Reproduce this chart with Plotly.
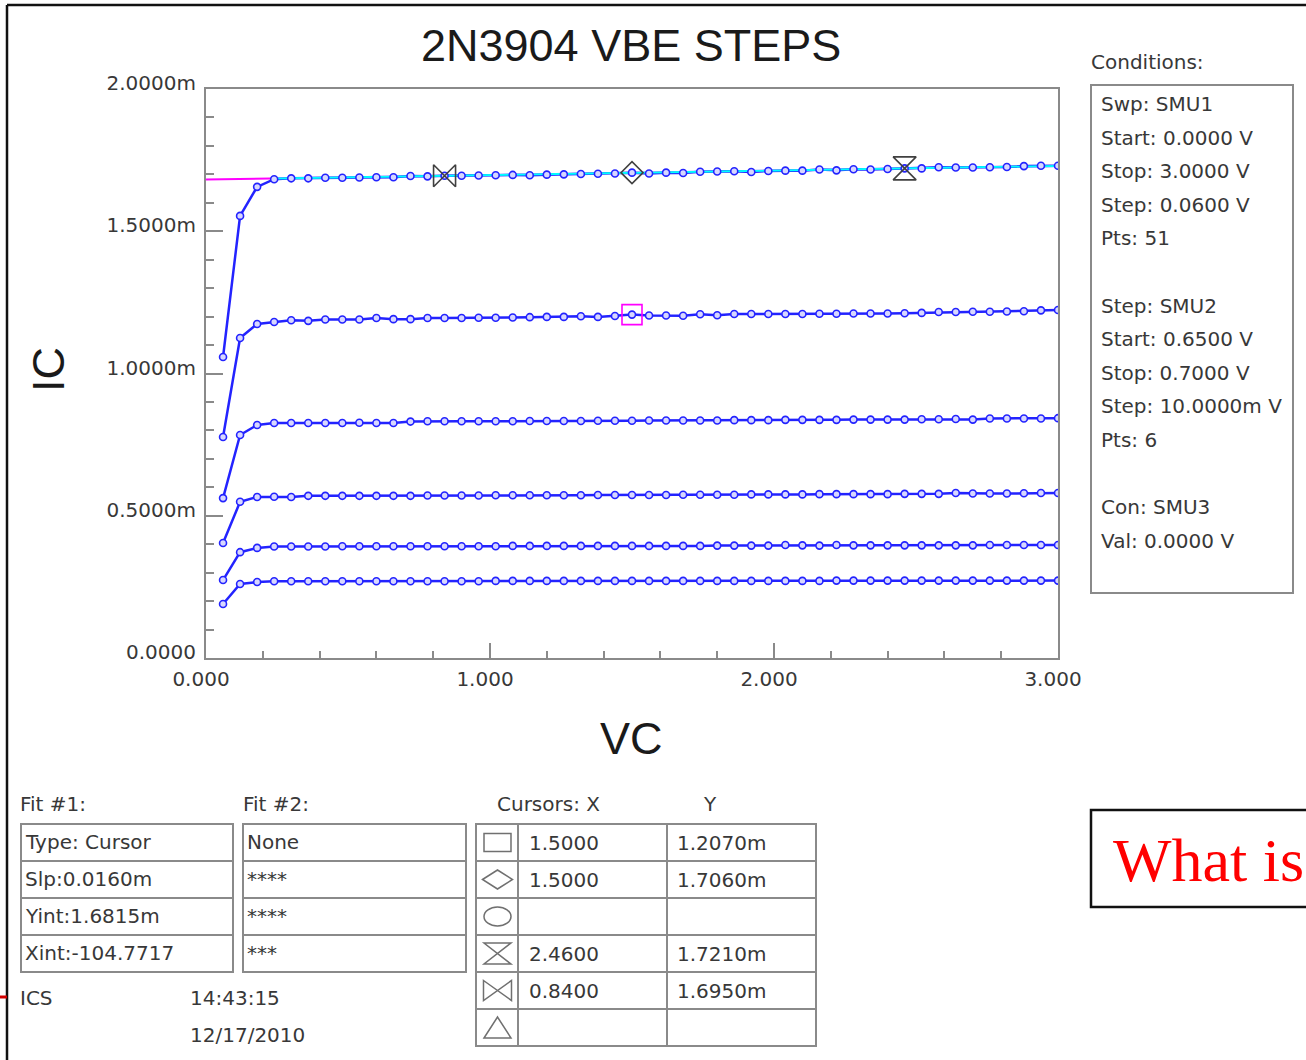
import plotly.graph_objects as go

W, H = 1306, 1060

# ---- sweep data (SMU1 collector sweep, one curve per SMU2 base step) ----
VC = [0.06, 0.12, 0.18, 0.24, 0.30, 0.36, 0.42, 0.48, 0.54, 0.60,
      0.66, 0.72, 0.78, 0.84, 0.90, 0.96, 1.02, 1.08, 1.14, 1.20,
      1.26, 1.32, 1.38, 1.44, 1.50, 1.56, 1.62, 1.68, 1.74, 1.80,
      1.86, 1.92, 1.98, 2.04, 2.10, 2.16, 2.22, 2.28, 2.34, 2.40,
      2.46, 2.52, 2.58, 2.64, 2.70, 2.76, 2.82, 2.88, 2.94, 3.00]

# collector current in mA
IC_VBE_700 = [1.058, 1.554, 1.656, 1.683, 1.686, 1.686, 1.688, 1.688, 1.689, 1.690,
              1.690, 1.694, 1.693, 1.695, 1.695, 1.696, 1.697, 1.698, 1.697, 1.699,
              1.700, 1.701, 1.702, 1.703, 1.706, 1.703, 1.706, 1.705, 1.709, 1.710,
              1.711, 1.708, 1.712, 1.713, 1.713, 1.717, 1.714, 1.718, 1.717, 1.719,
              1.721, 1.721, 1.725, 1.724, 1.724, 1.725, 1.726, 1.729, 1.730, 1.730]
IC_VBE_690 = [0.777, 1.125, 1.174, 1.181, 1.187, 1.185, 1.190, 1.190, 1.190, 1.195,
              1.191, 1.191, 1.195, 1.195, 1.195, 1.196, 1.196, 1.197, 1.198, 1.199,
              1.199, 1.201, 1.199, 1.202, 1.207, 1.204, 1.204, 1.203, 1.208, 1.205,
              1.209, 1.209, 1.209, 1.209, 1.209, 1.210, 1.210, 1.211, 1.211, 1.211,
              1.212, 1.213, 1.216, 1.216, 1.217, 1.217, 1.218, 1.219, 1.222, 1.223]
IC_VBE_680 = [0.562, 0.784, 0.819, 0.826, 0.826, 0.826, 0.826, 0.826, 0.827, 0.826,
              0.826, 0.831, 0.832, 0.832, 0.832, 0.832, 0.832, 0.832, 0.833, 0.833,
              0.833, 0.833, 0.834, 0.834, 0.834, 0.835, 0.835, 0.835, 0.835, 0.835,
              0.836, 0.836, 0.836, 0.837, 0.837, 0.837, 0.837, 0.838, 0.838, 0.838,
              0.838, 0.839, 0.839, 0.840, 0.838, 0.842, 0.842, 0.842, 0.842, 0.843]
IC_VBE_670 = [0.404, 0.549, 0.566, 0.567, 0.566, 0.570, 0.570, 0.570, 0.570, 0.570,
              0.570, 0.570, 0.571, 0.571, 0.571, 0.571, 0.572, 0.572, 0.572, 0.572,
              0.572, 0.572, 0.573, 0.573, 0.573, 0.573, 0.573, 0.574, 0.574, 0.574,
              0.574, 0.575, 0.575, 0.575, 0.575, 0.576, 0.576, 0.576, 0.576, 0.576,
              0.577, 0.577, 0.577, 0.580, 0.578, 0.578, 0.578, 0.579, 0.580, 0.580]
IC_VBE_660 = [0.274, 0.372, 0.387, 0.392, 0.392, 0.392, 0.392, 0.393, 0.393, 0.393,
              0.393, 0.393, 0.393, 0.393, 0.393, 0.393, 0.393, 0.394, 0.394, 0.394,
              0.394, 0.394, 0.394, 0.394, 0.394, 0.394, 0.394, 0.394, 0.394, 0.395,
              0.395, 0.395, 0.395, 0.397, 0.396, 0.395, 0.397, 0.396, 0.396, 0.396,
              0.396, 0.396, 0.396, 0.396, 0.396, 0.397, 0.397, 0.397, 0.397, 0.397]
IC_VBE_650 = [0.190, 0.260, 0.267, 0.270, 0.270, 0.270, 0.270, 0.270, 0.270, 0.270,
              0.270, 0.270, 0.270, 0.270, 0.270, 0.270, 0.271, 0.271, 0.271, 0.271,
              0.271, 0.271, 0.271, 0.271, 0.271, 0.271, 0.271, 0.271, 0.271, 0.271,
              0.271, 0.271, 0.271, 0.271, 0.271, 0.271, 0.272, 0.272, 0.272, 0.272,
              0.272, 0.272, 0.272, 0.272, 0.272, 0.272, 0.272, 0.272, 0.272, 0.272]

CURVES = [("VBE 0.65 V", IC_VBE_650), ("VBE 0.66 V", IC_VBE_660),
          ("VBE 0.67 V", IC_VBE_670), ("VBE 0.68 V", IC_VBE_680),
          ("VBE 0.69 V", IC_VBE_690), ("VBE 0.70 V", IC_VBE_700)]

# ---- cursor line fit (Fit #1) ----
FIT_SLOPE = 0.0160    # mA per V
FIT_YINT = 1.6815     # mA
FIT_START = 0.24      # V, start of the highlighted fit segment

# ---- cursors ----
CUR_SYMBOLS = ["square", "diamond", "circle", "hourglass", "bowtie", "triangle-up"]
CUR_X = ["1.5000", "1.5000", "", "2.4600", "0.8400", ""]
CUR_Y = ["1.2070m", "1.7060m", "", "1.7210m", "1.6950m", ""]

# ---- text panels ----
Y_TICKS = [0.0, 0.5, 1.0, 1.5, 2.0]
Y_TICK_TEXT = ["0.0000", "0.5000m", "1.0000m", "1.5000m", "2.0000m"]
CONDITIONS = ["Swp: SMU1", "Start: 0.0000 V", "Stop: 3.0000 V", "Step: 0.0600 V", "Pts: 51", "",
              "Step: SMU2", "Start: 0.6500 V", "Stop: 0.7000 V", "Step: 10.0000m V", "Pts: 6", "",
              "Con: SMU3", "Val: 0.0000 V"]
FIT1 = ["Type: Cursor", "Slp:0.0160m", "Yint:1.6815m", "Xint:-104.7717"]
FIT2 = ["None", "****", "****", "***"]

BLUE = "rgb(35,35,255)"
GRID_GRAY = "#8a8a8a"
TXT = "#383838"
SMALL = dict(family="DejaVu Sans", size=20, color=TXT)


def px(x):
    return x / W


def py(y):
    return 1 - y / H


fig = go.Figure()

# fit line over the whole sweep, then the highlighted part
fx = [0.0, 3.0]
fig.add_trace(go.Scatter(x=fx, y=[FIT_YINT + FIT_SLOPE * v for v in fx], mode="lines",
                         line=dict(color="rgb(255,0,255)", width=2), hoverinfo="skip"))

for name, ic in CURVES:
    fig.add_trace(go.Scatter(x=VC, y=ic, mode="lines", name=name,
                             line=dict(color=BLUE, width=2.5), hoverinfo="skip"))

cx = [FIT_START, 3.0]
fig.add_trace(go.Scatter(x=cx, y=[FIT_YINT + FIT_SLOPE * v for v in cx], mode="lines",
                         line=dict(color="rgb(0,255,255)", width=2), hoverinfo="skip"))

for name, ic in CURVES:
    fig.add_trace(go.Scatter(x=VC, y=ic, mode="markers", name=name,
                             marker=dict(symbol="circle", size=7, color="rgb(215,215,255)",
                                         line=dict(color=BLUE, width=1.6)),
                             hoverinfo="skip"))

# cursor markers on the plot
cur_sizes = {"square": 20, "diamond": 17, "hourglass": 23, "bowtie": 22}
for sym, xs, ys in zip(CUR_SYMBOLS, CUR_X, CUR_Y):
    if not xs:
        continue
    col = "rgb(255,0,255)" if sym == "square" else "#404040"
    fig.add_trace(go.Scatter(x=[float(xs)], y=[float(ys.rstrip("m"))], mode="markers",
                             marker=dict(symbol=sym + "-open", size=cur_sizes[sym],
                                         color=col, line=dict(color=col, width=1.6)),
                             hoverinfo="skip"))

axis_common = dict(showline=True, linecolor=GRID_GRAY, linewidth=2, mirror=True,
                   showgrid=False, zeroline=False, ticks="inside", tickwidth=2,
                   tickcolor=GRID_GRAY, tickfont=SMALL, automargin=False)

fig.update_layout(
    width=W, height=H, margin=dict(l=0, r=0, t=0, b=0, autoexpand=False),
    paper_bgcolor="white", plot_bgcolor="white", showlegend=False,
    xaxis=dict(domain=[px(206), px(1058)], range=[0, 3], tickmode="linear", tick0=0, dtick=1,
               tickformat=".3f", ticklen=15, ticklabelshift=-5, ticklabelstandoff=2,
               minor=dict(ticks="inside", tickmode="linear", tick0=0, dtick=0.2, ticklen=7,
                          tickwidth=2, tickcolor=GRID_GRAY),
               **axis_common),
    yaxis=dict(domain=[py(658), py(89)], range=[0, 2], tickmode="array", tickvals=Y_TICKS,
               ticktext=Y_TICK_TEXT, ticklen=17, ticklabelshift=-6, ticklabelstandoff=4,
               minor=dict(ticks="inside", tickmode="linear", tick0=0, dtick=0.1, ticklen=8,
                          tickwidth=2, tickcolor=GRID_GRAY),
               **axis_common),
)

ann = []
shapes = []


def text(x, y, s, font=SMALL, xanchor="left", **kw):
    # left-anchored labels are nudged to offset the annotation box padding
    xx = x - 2.5 if xanchor == "left" else x
    ann.append(dict(x=px(xx), y=py(y), xref="paper", yref="paper", text=s, showarrow=False,
                    xanchor=xanchor, yanchor="middle", font=font, **kw))


def line(x0, y0, x1, y1, color=GRID_GRAY, width=2):
    shapes.append(dict(type="line", xref="paper", yref="paper", x0=px(x0), y0=py(y0),
                       x1=px(x1), y1=py(y1), line=dict(color=color, width=width)))


def rect(x0, y0, x1, y1, color=GRID_GRAY, width=2):
    shapes.append(dict(type="rect", xref="paper", yref="paper", x0=px(x0), y0=py(y0),
                       x1=px(x1), y1=py(y1), line=dict(color=color, width=width)))


def path(points, color="#707070", width=1.5, close=True):
    d = "M " + " L ".join(f"{px(a):.5f},{py(b):.5f}" for a, b in points)
    if close:
        d += " Z"
    shapes.append(dict(type="path", xref="paper", yref="paper", path=d,
                       line=dict(color=color, width=width)))


# titles
text(631, 45, "2N3904 VBE STEPS", font=dict(family="Liberation Sans", size=45, color="#1a1a1a"),
     xanchor="center")
text(631, 738, "VC", font=dict(family="Liberation Sans", size=45, color="#1a1a1a"), xanchor="center")
text(48, 370, "IC", font=dict(family="Liberation Sans", size=45, color="#1a1a1a"), xanchor="center",
     textangle=-90)

# conditions panel
text(1091, 62, "Conditions:")
rect(1091, 85, 1293, 593)
for i, s in enumerate(CONDITIONS):
    if s:
        text(1101, 104 + i * 33.6, s)

# fit tables
row_top, row_h = 824, 37
text(20, 804, "Fit #1:")
text(243, 804, "Fit #2:")
for (x0, x1, rows) in [(21, 233, FIT1), (243, 466, FIT2)]:
    rect(x0, row_top, x1, row_top + row_h * 4)
    for r in range(1, 4):
        line(x0, row_top + r * row_h, x1, row_top + r * row_h)
    for r, s in enumerate(rows):
        text(x0 + 4, row_top + r * row_h + 18, s)

text(20, 998, "ICS")
text(190, 998, "14:43:15")
text(190, 1035, "12/17/2010")

# cursor table
text(497, 804, "Cursors: X")
text(703, 804, "Y")
ct_x0, ct_x1, ct_c1, ct_c2 = 476, 816, 518, 667
rect(ct_x0, row_top, ct_x1, row_top + row_h * 6)
for r in range(1, 6):
    line(ct_x0, row_top + r * row_h, ct_x1, row_top + r * row_h)
line(ct_c1, row_top, ct_c1, row_top + row_h * 6)
line(ct_c2, row_top, ct_c2, row_top + row_h * 6)
for r, (sym, xs, ys) in enumerate(zip(CUR_SYMBOLS, CUR_X, CUR_Y)):
    cy = row_top + r * row_h + 18.5
    cxm = 497.5
    if sym == "square":
        path([(cxm - 13.5, cy - 9), (cxm + 13.5, cy - 9), (cxm + 13.5, cy + 9), (cxm - 13.5, cy + 9)])
    elif sym == "diamond":
        path([(cxm - 15, cy), (cxm, cy - 9.5), (cxm + 15, cy), (cxm, cy + 9.5)])
    elif sym == "circle":
        shapes.append(dict(type="circle", xref="paper", yref="paper",
                           x0=px(cxm - 13.5), x1=px(cxm + 13.5), y0=py(cy - 9.5), y1=py(cy + 9.5),
                           line=dict(color="#707070", width=1.5)))
    elif sym == "hourglass":
        path([(cxm - 13.5, cy - 10.5), (cxm + 13.5, cy - 10.5), (cxm - 13.5, cy + 10.5),
              (cxm + 13.5, cy + 10.5)])
    elif sym == "bowtie":
        path([(cxm - 14, cy - 10), (cxm + 14, cy + 10), (cxm + 14, cy - 10), (cxm - 14, cy + 10)])
    else:
        path([(cxm - 13.5, cy + 10.5), (cxm, cy - 10.5), (cxm + 13.5, cy + 10.5)])
    if xs:
        text(529, cy, xs)
    if ys:
        text(677, cy, ys)

# boxed note at the lower right
rect(1091, 810, 1330, 907, color="#111111", width=2.5)
text(1113, 860, "What is", font=dict(family="Liberation Serif", size=62, color="rgb(255,0,0)"))

# page frame
line(7, 5, 1310, 5, color="#111111", width=2.5)
line(7, 5, 7, 1065, color="#111111", width=2.5)
line(-2, 997, 7, 997, color="rgb(210,0,0)", width=3)

fig.update_layout(annotations=ann, shapes=shapes)
fig.write_html("out.html", config={"displayModeBar": False})
